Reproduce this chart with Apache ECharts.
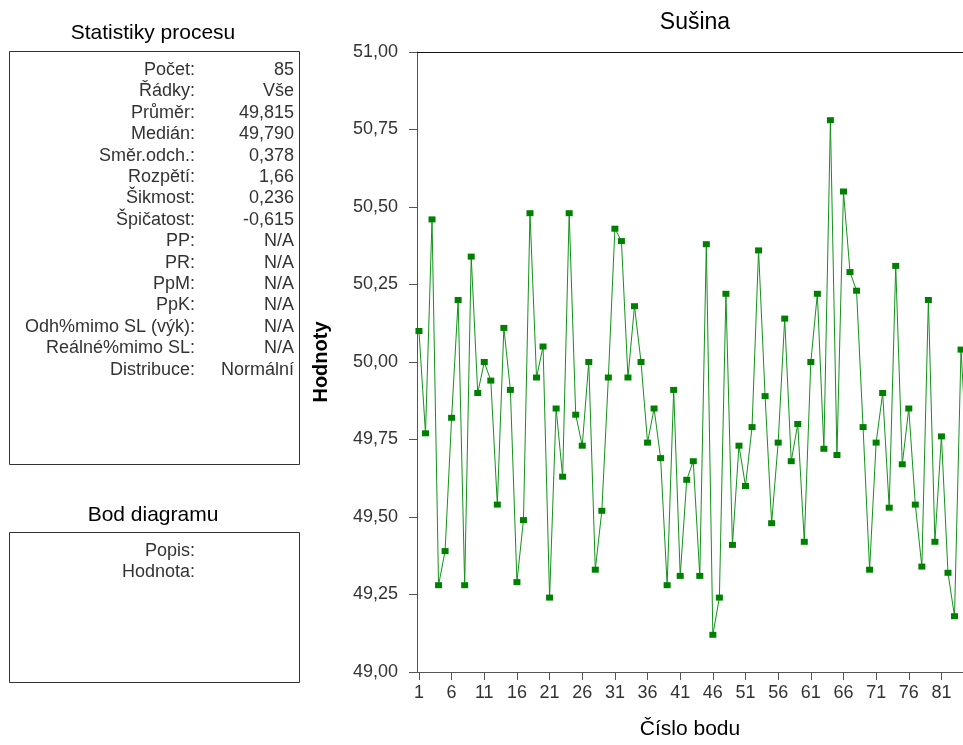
<!DOCTYPE html>
<html>
<head>
<meta charset="utf-8">
<title>Sušina</title>
<script src="https://cdn.jsdelivr.net/npm/echarts@6/dist/echarts.min.js"></script>
<style>
  html, body { margin: 0; padding: 0; background: #fff; }
  #chart { width: 963px; height: 745px; }
</style>
</head>
<body>
<div id="chart"></div>
<script>
// Measured values of "Sušina", in order of point number (1..85)
const values = [
  50.10, 49.77, 50.46, 49.28, 49.39, 49.82, 50.20, 49.28, 50.34, 49.90,
  50.00, 49.94, 49.54, 50.11, 49.91, 49.29, 49.49, 50.48, 49.95, 50.05,
  49.24, 49.85, 49.63, 50.48, 49.83, 49.73, 50.00, 49.33, 49.52, 49.95,
  50.43, 50.39, 49.95, 50.18, 50.00, 49.74, 49.85, 49.69, 49.28, 49.91,
  49.31, 49.62, 49.68, 49.31, 50.38, 49.12, 49.24, 50.22, 49.41, 49.73,
  49.60, 49.79, 50.36, 49.89, 49.48, 49.74, 50.14, 49.68, 49.80, 49.42,
  50.00, 50.22, 49.72, 50.78, 49.70, 50.55, 50.29, 50.23, 49.79, 49.33,
  49.74, 49.90, 49.53, 50.31, 49.67, 49.85, 49.54, 49.34, 50.20, 49.42,
  49.76, 49.32, 49.18, 50.04, 49.66
];

// Point numbers shown on the horizontal axis
const xTicks = [1, 6, 11, 16, 21, 26, 31, 36, 41, 46, 51, 56, 61, 66, 71, 76, 81];

// Process statistics panel
const statLabels = [
  'Počet:', 'Řádky:', 'Průměr:', 'Medián:', 'Směr.odch.:', 'Rozpětí:',
  'Šikmost:', 'Špičatost:', 'PP:', 'PR:', 'PpM:', 'PpK:',
  'Odh%mimo SL (výk):', 'Reálné%mimo SL:', 'Distribuce:'
];
const statValues = [
  '85', 'Vše', '49,815', '49,790', '0,378', '1,66',
  '0,236', '-0,615', 'N/A', 'N/A', 'N/A', 'N/A',
  'N/A', 'N/A', 'Normální'
];

// Selected point panel
const pointLabels = ['Popis:', 'Hodnota:'];

const FONT = '"Liberation Sans", Arial, sans-serif';
const chart = echarts.init(document.getElementById('chart'), null, { renderer: 'canvas' });

const seriesData = values.map((v, i) => [i + 1, v]);

// Side panels: framed boxes with right-aligned label/value rows
const graphics = [];
graphics.push({
  type: 'text',
  style: { text: 'Statistiky procesu', x: 153, y: 33, textAlign: 'center', textVerticalAlign: 'middle',
           font: '21px ' + FONT, fill: '#000' }
});
graphics.push({
  type: 'rect', shape: { x: 9.5, y: 51.5, width: 290, height: 413 },
  style: { fill: 'none', stroke: '#333', lineWidth: 1 }
});
statLabels.forEach((lab, i) => {
  const y = 70 + i * 21.4;
  graphics.push({
    type: 'text',
    style: { text: lab, x: 195, y: y, textAlign: 'right', textVerticalAlign: 'middle',
             font: '18px ' + FONT, fill: '#333' }
  });
  graphics.push({
    type: 'text',
    style: { text: statValues[i], x: 294, y: y, textAlign: 'right', textVerticalAlign: 'middle',
             font: '18px ' + FONT, fill: '#333' }
  });
});
graphics.push({
  type: 'text',
  style: { text: 'Bod diagramu', x: 153, y: 515, textAlign: 'center', textVerticalAlign: 'middle',
           font: '21px ' + FONT, fill: '#000' }
});
graphics.push({
  type: 'rect', shape: { x: 9.5, y: 532.5, width: 290, height: 150 },
  style: { fill: 'none', stroke: '#333', lineWidth: 1 }
});
pointLabels.forEach((lab, i) => {
  graphics.push({
    type: 'text',
    style: { text: lab, x: 195, y: 551 + i * 21.4, textAlign: 'right', textVerticalAlign: 'middle',
             font: '18px ' + FONT, fill: '#333' }
  });
});

// Horizontal extent of the plot: the axis runs past the right edge of the page,
// so the visible window ends a little before the last point.
const xMin = 0.7, xMax = 84.3;

chart.setOption({
  animation: false,
  backgroundColor: '#fff',
  textStyle: { fontFamily: FONT },
  title: {
    text: 'Sušina',
    left: 690, top: 6, textAlign: 'center',
    textStyle: { fontSize: 23, fontWeight: 'normal', color: '#000', fontFamily: FONT }
  },
  grid: { left: 417, top: 52, right: 0, bottom: 71, containLabel: false },
  xAxis: [{
    type: 'value', min: xMin, max: xMax, position: 'bottom',
    name: 'Číslo bodu', nameLocation: 'middle', nameGap: 47,
    nameTextStyle: { fontSize: 21, color: '#000', fontFamily: FONT },
    axisLine: { show: true, lineStyle: { color: '#555', width: 1 } },
    axisTick: { show: true, length: 8, lineStyle: { color: '#555' }, customValues: xTicks },
    axisLabel: { show: true, fontSize: 18, color: '#333', margin: 12, customValues: xTicks, fontFamily: FONT },
    splitLine: { show: false }
  }, {
    // frame line along the top of the plot
    type: 'value', min: xMin, max: xMax, position: 'top',
    axisLine: { show: true, onZero: false, lineStyle: { color: '#111', width: 1 } },
    axisTick: { show: false }, axisLabel: { show: false }, splitLine: { show: false }
  }],
  yAxis: {
    type: 'value', min: 49, max: 51, interval: 0.25,
    name: 'Hodnoty', nameLocation: 'middle', nameGap: 86, nameRotate: 90,
    nameTextStyle: { fontSize: 20, fontWeight: 'bold', color: '#000', fontFamily: FONT },
    axisLine: { show: true, lineStyle: { color: '#555', width: 1 } },
    axisTick: { show: true, length: 8, lineStyle: { color: '#555' } },
    axisLabel: {
      fontSize: 18, color: '#333', margin: 19, fontFamily: FONT,
      formatter: v => v.toFixed(2).replace('.', ',')
    },
    splitLine: { show: false }
  },
  graphic: graphics,
  series: [{
    type: 'line',
    data: seriesData,
    clip: true,
    symbol: 'rect',
    symbolSize: [7, 6],
    showAllSymbol: true,
    itemStyle: { color: '#008000' },
    lineStyle: { color: '#12921a', width: 1 },
    emphasis: { disabled: true }
  }]
});
</script>
</body>
</html>
